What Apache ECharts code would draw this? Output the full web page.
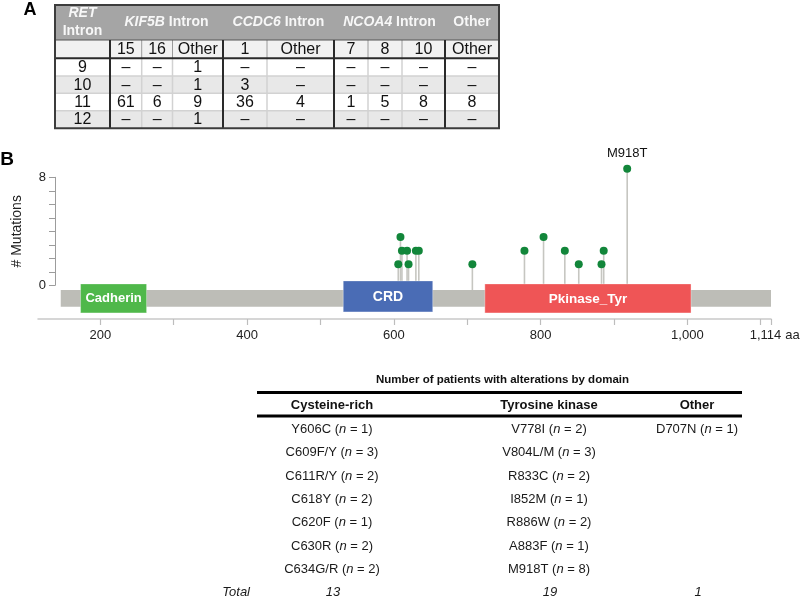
<!DOCTYPE html>
<html><head><meta charset="utf-8">
<script src="https://cdn.jsdelivr.net/npm/echarts@6/dist/echarts.min.js"></script>
<style>html,body{margin:0;padding:0;background:#fff}#c{width:800px;height:598px}</style>
</head><body><div id="c"></div>
<script>
const FONT = '"Liberation Sans", Arial, Helvetica, sans-serif';

// ---------- Panel A: fusion partner table ----------
const fusionGroups = [
  { italic: 'KIF5B', plain: ' Intron', span: 3 },
  { italic: 'CCDC6', plain: ' Intron', span: 2 },
  { italic: 'NCOA4', plain: ' Intron', span: 3 },
  { italic: '', plain: 'Other', span: 1 }
];
const fusionSubColumns = ['15', '16', 'Other', '1', 'Other', '7', '8', '10', 'Other'];
const retIntrons = ['9', '10', '11', '12'];
const fusionCounts = [
  ['–', '–', '1', '–', '–', '–', '–', '–', '–'],
  ['–', '–', '1', '3', '–', '–', '–', '–', '–'],
  ['61', '6', '9', '36', '4', '1', '5', '8', '8'],
  ['–', '–', '1', '–', '–', '–', '–', '–', '–']
];

// ---------- Panel B: mutations ----------
const domainColumns = ['Cysteine-rich', 'Tyrosine kinase', 'Other'];
const cysteineRich = [['Y606C', 1], ['C609F/Y', 3], ['C611R/Y', 2], ['C618Y', 2], ['C620F', 1], ['C630R', 2], ['C634G/R', 2]];
const tyrosineKinase = [['V778I', 2], ['V804L/M', 3], ['R833C', 2], ['I852M', 1], ['R886W', 2], ['A883F', 1], ['M918T', 8]];
const otherDomain = [['D707N', 1]];
const proteinRange = [146, 1114];
const proteinDomains = [['Cadherin', 173, 263], ['CRD', 531, 653], ['Pkinase_Tyr', 724, 1005]];
const xTickValues = [200, 300, 400, 500, 600, 700, 800, 900, 1000, 1100, 1114];
const xLabelValues = [200, 400, 600, 800, 1000, 1114];
const yLabelValues = [0, 8];
const labelledMutations = ['M918T'];

const mutations = [...cysteineRich, ...tyrosineKinase, ...otherDomain].map(([name, n]) => ({
  name, n, pos: parseInt(name.match(/\d+/)[0], 10)
}));

// ---------- layout / styles ----------
const tA = { cols: [55, 110, 141.7, 172.5, 223, 267, 334, 368, 402, 445, 499], rows: [5, 40, 58.3, 76, 93.3, 110.7, 128.3] };
const tB = { left: 257, right: 742, title: 380, rule1: 392.5, header: 405, rule2: 416, row0: 429.5, step: 23.3, colX: [332, 549, 697], totalLabelX: 250 };
const domainStyle = {
  Cadherin: { color: '#4fb84a', dy: 0, h: 29, size: 13 },
  CRD: { color: '#4a6cb5', dy: -2, h: 31, size: 14 },
  Pkinase_Tyr: { color: '#ef5556', dy: 0, h: 29, size: 13.5 }
};

const g = [];
function line(x1, y1, x2, y2, stroke, w) {
  g.push({ type: 'line', silent: true, shape: { x1, y1, x2, y2 }, style: { stroke, lineWidth: w } });
}
function rect(x, y, w, h, fill) {
  g.push({ type: 'rect', silent: true, shape: { x, y, width: w, height: h }, style: { fill } });
}
function text(x, y, t, opts) {
  g.push({ type: 'text', silent: true, x, y, style: Object.assign({ text: t, align: 'center', verticalAlign: 'middle', fill: '#111', fontFamily: FONT, fontSize: 16 }, opts || {}) });
}

// Table A backgrounds
const L = tA.cols[0], R = tA.cols[tA.cols.length - 1];
rect(L, tA.rows[0], R - L, tA.rows[1] - tA.rows[0], '#a5a5a5');
rect(L, tA.rows[1], R - L, tA.rows[2] - tA.rows[1], '#f1f1f1');
retIntrons.forEach((_, i) => {
  rect(L, tA.rows[i + 2], R - L, tA.rows[i + 3] - tA.rows[i + 2], i % 2 ? '#e8e8e8' : '#ffffff');
});
// group boundaries
const thickIdx = [1];
let acc = 1;
fusionGroups.forEach(gr => { acc += gr.span; thickIdx.push(acc); });
thickIdx.pop();
for (let c = 1; c < tA.cols.length - 1; c++) {
  if (thickIdx.includes(c)) continue;
  line(tA.cols[c], tA.rows[1], tA.cols[c], tA.rows[2], '#9a9a9a', 1);
  line(tA.cols[c], tA.rows[2], tA.cols[c], tA.rows[6], '#d2d2d2', 1.5);
}
for (let r = 3; r <= 5; r++) line(L, tA.rows[r], R, tA.rows[r], '#d2d2d2', 1.5);
line(L, tA.rows[1], R, tA.rows[1], '#555', 1);
line(L, tA.rows[2], R, tA.rows[2], '#2a2a2a', 2);
thickIdx.forEach(c => line(tA.cols[c], tA.rows[1], tA.cols[c], tA.rows[6], '#2a2a2a', 2));
g.push({ type: 'rect', silent: true, shape: { x: L, y: tA.rows[0], width: R - L, height: tA.rows[6] - tA.rows[0] }, style: { fill: null, stroke: '#3c3c3c', lineWidth: 2 } });

// Table A header text
const hdrRich = {
  i: { fontStyle: 'italic', fontWeight: 'bold', fontSize: 14, fill: '#f7f7f7', fontFamily: FONT, lineHeight: 18 },
  b: { fontWeight: 'bold', fontSize: 14, fill: '#f7f7f7', fontFamily: FONT, lineHeight: 18 }
};
const hdrY = (tA.rows[0] + tA.rows[1]) / 2;
text((tA.cols[0] + tA.cols[1]) / 2, hdrY, '{i|RET}\n{b|Intron}', { rich: hdrRich });
acc = 1;
fusionGroups.forEach(gr => {
  const cx = (tA.cols[acc] + tA.cols[acc + gr.span]) / 2;
  const t = (gr.italic ? '{i|' + gr.italic + '}' : '') + '{b|' + gr.plain + '}';
  text(cx, hdrY, t, { rich: hdrRich });
  acc += gr.span;
});
fusionSubColumns.forEach((s, i) => {
  text((tA.cols[i + 1] + tA.cols[i + 2]) / 2, (tA.rows[1] + tA.rows[2]) / 2 + 0.5, s);
});
retIntrons.forEach((ri, r) => {
  const cy = (tA.rows[r + 2] + tA.rows[r + 3]) / 2 + 0.5;
  text((tA.cols[0] + tA.cols[1]) / 2, cy, ri);
  fusionCounts[r].forEach((v, c) => text((tA.cols[c + 1] + tA.cols[c + 2]) / 2, cy, v));
});

// Panel labels
text(30, 10, 'A', { fontSize: 18, fontWeight: 'bold', fill: '#000' });
text(7, 160, 'B', { fontSize: 19, fontWeight: 'bold', fill: '#000' });

// Table B
text((tB.left + tB.right) / 2 + 3, tB.title, 'Number of patients with alterations by domain', { fontSize: 11.5, fontWeight: 'bold', fill: '#111' });
line(tB.left, tB.rule1, tB.right, tB.rule1, '#000', 3);
line(tB.left, tB.rule2, tB.right, tB.rule2, '#000', 3);
domainColumns.forEach((h, i) => text(tB.colX[i], tB.header, h, { fontSize: 13, fontWeight: 'bold', fill: '#111' }));
const bodyRich = {
  r: { fontSize: 13, fill: '#1a1a1a', fontFamily: FONT },
  i: { fontSize: 13, fill: '#1a1a1a', fontFamily: FONT, fontStyle: 'italic' }
};
[cysteineRich, tyrosineKinase, otherDomain].forEach((list, ci) => {
  list.forEach(([name, n], ri) => {
    text(tB.colX[ci], tB.row0 + ri * tB.step, '{r|' + name + ' (}{i|n}{r| = ' + n + ')}', { rich: bodyRich });
  });
  const total = list.reduce((s, d) => s + d[1], 0);
  text(tB.colX[ci] + 1, tB.row0 + 7 * tB.step, String(total), { fontSize: 13, fontStyle: 'italic', fill: '#1a1a1a' });
});
text(tB.totalLabelX, tB.row0 + 7 * tB.step, 'Total', { fontSize: 13, fontStyle: 'italic', fill: '#1a1a1a', align: 'right' });

// ---------- chart ----------
const chart = echarts.init(document.getElementById('c'), null, { renderer: 'canvas' });
const BAR_CENTER = -1.49;
const lastTick = xLabelValues[xLabelValues.length - 1];
chart.setOption({
  animation: false,
  backgroundColor: '#fff',
  textStyle: { fontFamily: FONT },
  grid: [
    { left: 38, right: 29, top: 151, height: 168, outerBoundsMode: 'none', containLabel: false },
    { left: 55, right: 29, top: 177.3, height: 108, outerBoundsMode: 'none', containLabel: false }
  ],
  xAxis: [
    {
      gridIndex: 0, type: 'value', min: 115, max: 1114,
      axisLine: { show: true, onZero: false, lineStyle: { color: '#c9c9c9', width: 1.5 } },
      axisTick: { show: true, customValues: xTickValues, length: 6, lineStyle: { color: '#bdbdbd', width: 1.2 } },
      axisLabel: { customValues: xLabelValues, margin: 10, fontSize: 13, color: '#222', fontFamily: FONT,
        formatter: v => v === lastTick ? '{m|' + Number(v).toLocaleString('en-US') + '}' : Number(v).toLocaleString('en-US'),
        rich: { m: { fontSize: 13, color: '#222', fontFamily: FONT, padding: [0, 11, 0, 0] } } },
      splitLine: { show: false },
      name: 'aa', nameLocation: 'end', nameGap: 14,
      nameTextStyle: { fontSize: 13, color: '#222', fontFamily: FONT, align: 'left', verticalAlign: 'top', padding: [10, 0, 0, 0] }
    },
    { gridIndex: 1, type: 'value', min: 0, max: 1, show: false }
  ],
  yAxis: [
    { gridIndex: 0, type: 'value', min: -3, max: 9.3, show: false },
    {
      gridIndex: 1, type: 'value', min: 0, max: 8, interval: 1,
      axisLine: { show: true, onZero: false, lineStyle: { color: '#9c9c9c', width: 1 } },
      axisTick: { show: true, length: 6, lineStyle: { color: '#9c9c9c' } },
      axisLabel: { customValues: yLabelValues, margin: 9, fontSize: 13, color: '#222', fontFamily: FONT },
      splitLine: { show: false },
      name: '# Mutations', nameLocation: 'middle', nameGap: 31,
      nameTextStyle: { fontSize: 14, color: '#222', fontFamily: FONT }
    }
  ],
  series: [
    {
      type: 'custom', name: 'stems', xAxisIndex: 0, yAxisIndex: 0, z: 1, silent: true,
      data: mutations.map(m => [m.pos, m.n]),
      renderItem: (params, api) => {
        const top = api.coord([api.value(0), api.value(1)]);
        const base = api.coord([api.value(0), -1.2]);
        return { type: 'line', shape: { x1: top[0], y1: top[1], x2: base[0], y2: base[1] }, style: { stroke: '#c6c6c1', lineWidth: 1.6 } };
      }
    },
    {
      type: 'custom', name: 'protein', xAxisIndex: 0, yAxisIndex: 0, z: 2, silent: true,
      data: [proteinRange],
      renderItem: (params, api) => {
        const p0 = api.coord([api.value(0), BAR_CENTER]);
        const p1 = api.coord([api.value(1), BAR_CENTER]);
        return { type: 'rect', shape: { x: p0[0], y: p0[1] - 8.3, width: p1[0] - p0[0], height: 16.6 }, style: { fill: '#bdbdb7' } };
      }
    },
    {
      type: 'custom', name: 'domains', xAxisIndex: 0, yAxisIndex: 0, z: 3, silent: true,
      data: proteinDomains.map(d => [d[1], d[2]]),
      renderItem: (params, api) => {
        const name = proteinDomains[params.dataIndex][0];
        const st = domainStyle[name];
        const p0 = api.coord([api.value(0), BAR_CENTER]);
        const p1 = api.coord([api.value(1), BAR_CENTER]);
        const cy = p0[1] + st.dy;
        return {
          type: 'group', children: [
            { type: 'rect', shape: { x: p0[0], y: cy - st.h / 2, width: p1[0] - p0[0], height: st.h }, style: { fill: st.color, stroke: 'rgba(255,255,255,0.35)', lineWidth: 1 } },
            { type: 'text', style: { text: name, x: (p0[0] + p1[0]) / 2, y: cy + 0.5, align: 'center', verticalAlign: 'middle', fill: '#fff', fontWeight: 'bold', fontSize: st.size, fontFamily: FONT } }
          ]
        };
      }
    },
    {
      type: 'scatter', name: 'mutations', xAxisIndex: 0, yAxisIndex: 0, z: 4,
      symbol: 'circle', symbolSize: 8,
      itemStyle: { color: '#12863a', opacity: 1 },
      label: { show: false, position: 'top', distance: 5, formatter: '{b}', fontSize: 13, color: '#111', fontFamily: FONT },
      data: mutations.map(m => ({
        value: [m.pos, m.n], name: m.name,
        label: { show: labelledMutations.includes(m.name), color: '#111' }
      }))
    }
  ],
  graphic: { elements: g }
});
</script>
</body></html>
